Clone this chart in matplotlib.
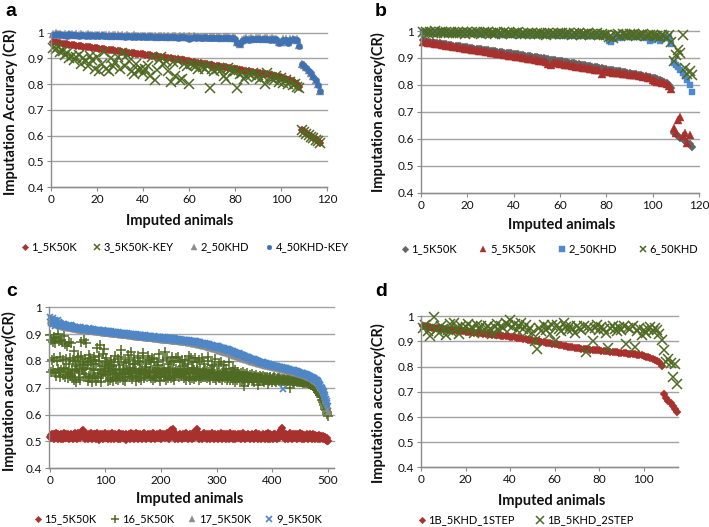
import matplotlib.pyplot as plt
import numpy as np

plt.rcParams['font.family'] = ['Lato', 'DejaVu Sans']

# values are CR x 1000, one per imputed animal (animal index = position + 1)

# series 1_5K50K (panel a red, panel b grey)
s_1_5k50k = [965, 963, 961, 960, 958, 957, 955, 954, 953, 951,
             950, 949, 947, 946, 945, 944, 943, 941, 940, 939,
             938, 937, 935, 934, 933, 932, 931, 929, 928, 927,
             926, 925, 923, 922, 921, 920, 919, 918, 917, 916,
             914, 913, 912, 911, 909, 908, 907, 905, 904, 903,
             901, 900, 899, 897, 896, 894, 893, 892, 890, 889,
             887, 886, 884, 883, 881, 880, 878, 877, 875, 874,
             872, 871, 869, 868, 866, 865, 863, 862, 860, 859,
             857, 856, 854, 853, 851, 850, 848, 847, 845, 844,
             842, 841, 839, 838, 836, 834, 832, 830, 828, 826,
             824, 821, 818, 815, 811, 806, 800, 790,
             622, 616, 610, 604, 598, 592, 586, 579, 571]

# series 2_50KHD (panel a grey, panel b blue)
s_2_50khd = [995, 997, 994, 996, 993, 995, 992, 996, 994, 993,
             995, 992, 994, 993, 991, 994, 992, 993, 990, 993,
             991, 993, 990, 992, 991, 989, 992, 990, 991, 989,
             991, 988, 990, 989, 987, 990, 988, 989, 986, 989,
             988, 986, 989, 987, 988, 985, 988, 986, 987, 985,
             987, 985, 986, 988, 984, 986, 985, 987, 983, 986,
             984, 986, 983, 985, 984, 982, 985, 983, 984, 982,
             984, 982, 983, 981, 983, 982, 984, 981, 983, 980,
             962, 958, 972, 976, 978, 975, 979, 977, 980, 978,
             979, 977, 980, 978, 976, 979, 975, 977, 962, 965,
             974, 976, 963, 975, 977, 973, 975, 952,
             880, 873, 866, 856, 845, 832, 818, 800, 775]

a_3_5k50k_key = [940, 935, 945, 925, 930, 915, 920, 900, 910, 895,
                 905, 915, 880, 900, 890, 870, 910, 895, 860, 905,
                 850, 880, 925, 860, 850, 900, 870, 885, 905, 860,
                 920, 870, 915, 890, 850, 840, 880, 855, 860, 845,
                 860, 870, 830, 905, 815, 855, 895, 905, 880, 890,
                 850, 810, 885, 830, 890, 815, 820, 880, 870, 800,
                 880, 875, 870, 860, 870, 865, 860, 870, 785, 858,
                 850, 860, 862, 855, 830, 820, 862, 855, 850, 852,
                 785, 840, 845, 820, 830, 840, 835, 842, 828, 836,
                 820, 830, 800, 845, 826, 820, 815, 830, 810, 823,
                 805, 815, 800, 810, 795, 800, 790, 785,
                 620, 615, 608, 602, 596, 590, 584, 578, 570]

a_4_50khd_key = [993, 995, 991, 994, 990, 993, 989, 994, 991, 990,
                 992, 989, 991, 990, 988, 991, 989, 990, 987, 990,
                 988, 990, 987, 989, 988, 986, 989, 987, 988, 986,
                 988, 985, 987, 986, 984, 987, 985, 986, 983, 986,
                 985, 983, 986, 984, 985, 982, 985, 983, 984, 982,
                 984, 982, 983, 985, 981, 983, 982, 984, 980, 975,
                 981, 983, 980, 982, 981, 979, 982, 980, 981, 979,
                 981, 979, 980, 978, 980, 979, 981, 978, 980, 977,
                 959, 955, 969, 973, 975, 972, 976, 974, 977, 975,
                 976, 974, 977, 975, 973, 976, 972, 974, 959, 962,
                 971, 973, 960, 972, 974, 970, 972, 950,
                 878, 870, 863, 853, 842, 829, 815, 797, 773]

b_5_5k50k = [960, 958, 957, 955, 954, 952, 951, 950, 948, 947,
             946, 944, 943, 942, 940, 939, 938, 936, 935, 933,
             932, 931, 929, 928, 927, 925, 924, 922, 921, 920,
             918, 917, 916, 914, 913, 911, 910, 909, 907, 906,
             904, 903, 902, 900, 899, 897, 896, 895, 893, 892,
             890, 889, 888, 886, 876, 874, 883, 881, 880, 878,
             877, 875, 874, 872, 871, 869, 868, 866, 865, 864,
             862, 861, 859, 858, 857, 855, 854, 841, 852, 850,
             849, 848, 846, 845, 844, 843, 841, 840, 839, 838,
             837, 836, 835, 833, 832, 831, 829, 827, 824, 820,
             816, 812, 810, 808, 806, 802, 795, 785,
             640, 620, 668, 680, 612, 622, 585, 615]

b_6_50khd = [995, 998, 992, 996, 994, 999, 991, 995, 997, 993,
             996, 992, 998, 994, 991, 996, 993, 997, 990, 995,
             993, 997, 991, 995, 994, 990, 996, 992, 995, 991,
             994, 990, 996, 992, 989, 995, 991, 994, 990, 993,
             991, 995, 989, 993, 990, 994, 988, 992, 990, 993,
             989, 993, 990, 987, 992, 989, 993, 988, 991, 989,
             992, 988, 990, 993, 987, 991, 989, 992, 987, 990,
             988, 991, 986, 990, 988, 991, 986, 989, 987, 984,
             978, 982, 975, 985, 988, 983, 989, 986, 984, 988,
             985, 989, 983, 987, 985, 988, 982, 986, 984, 987,
             980, 983, 978, 985, 980, 975, 985, 960, 890, 912,
             930, 920, 985, 862, 840, 850, 835]

c_15_5k50k = [518, 524, 512, 529, 515, 521, 509, 526, 519, 513, 531, 516, 522, 510, 527, 518, 514, 525, 520, 511,
              528, 517, 523, 508, 521, 530, 514, 519, 526, 512, 522, 516, 529, 511, 520, 524, 513, 527, 518, 515,
              523, 510, 528, 519, 533, 514, 521, 526, 509, 517, 530, 522, 515, 527, 512, 520, 531, 538, 544, 526,
              532, 518, 511, 525, 520, 514, 529, 508, 522, 517, 527, 512, 520, 531, 515, 509, 524, 519, 528, 513,
              521, 526, 510, 518, 530, 515, 523, 507, 519, 527, 513, 522, 516, 529, 511, 520, 525, 514, 532, 517,
              512, 524, 519, 508, 528, 516, 521, 513, 526, 518, 510, 531, 515, 523, 509, 520, 527, 514, 522, 516,
              525, 511, 519, 533, 515, 522, 508, 527, 517, 521, 513, 529, 518, 512, 524, 520, 507, 526, 516, 523,
              514, 528, 519, 510, 525, 517, 531, 512, 521, 526, 509, 518, 524, 515, 530, 513, 520, 527, 511, 522,
              517, 529, 512, 523, 519, 508, 526, 515, 521, 532, 514, 518, 525, 510, 522, 527, 516, 520, 513, 528,
              519, 511, 524, 517, 530, 513, 521, 526, 509, 518, 523, 515, 528, 512, 520, 525, 516, 531, 514, 522,
              510, 527, 518, 523, 515, 529, 512, 520, 524, 517, 531, 514, 521, 526, 509, 533, 519, 536, 541, 528,
              539, 546, 530, 517, 524, 511, 522, 527, 515, 520, 508, 525, 518, 513, 529, 516, 521, 510, 526, 519,
              514, 523, 528, 512, 520, 531, 516, 509, 524, 518, 522, 513, 527, 519, 511, 525, 517, 530, 514, 521,
              527, 533, 540, 545, 529, 516, 522, 510, 526, 518, 513, 524, 520, 508, 528, 515, 521, 531, 512, 519,
              524, 511, 529, 517, 521, 514, 527, 509, 520, 525, 516, 530, 512, 519, 523, 510, 526, 518, 513, 522,
              516, 528, 510, 521, 525, 513, 519, 531, 508, 523, 517, 527, 512, 520, 515, 529, 511, 522, 526, 514,
              520, 509, 525, 518, 530, 513, 521, 516, 527, 511, 519, 524, 508, 526, 515, 522, 512, 528, 517, 521,
              513, 526, 519, 510, 524, 517, 531, 514, 520, 527, 509, 522, 516, 525, 512, 518, 529, 515, 521, 508,
              525, 517, 512, 528, 520, 514, 523, 510, 526, 518, 531, 513, 519, 524, 508, 521, 527, 515, 520, 511,
              522, 516, 529, 512, 519, 525, 509, 521, 527, 514, 518, 530, 511, 523, 517, 508, 526, 520, 513, 524,
              518, 510, 527, 521, 514, 529, 516, 522, 511, 525, 519, 531, 513, 520, 535, 542, 549, 540, 527, 515,
              520, 526, 511, 518, 529, 514, 522, 508, 525, 517, 521, 530, 512, 519, 524, 510, 527, 516, 522, 513,
              528, 515, 521, 509, 526, 518, 512, 524, 519, 530, 514, 520, 527, 511, 523, 517, 508, 525, 516, 521,
              514, 527, 519, 510, 524, 521, 515, 529, 512, 518, 523, 509, 526, 517, 520, 513, 525, 511, 519, 516,
              522, 510, 518, 525, 513, 519, 508, 521, 515, 512, 520, 509, 517, 513, 510, 515, 507, 512, 503, 500]

c_16_5k50k = [895, 760, 880, 805, 872, 765, 890, 810, 755, 868, 745, 885, 800, 770, 900, 760, 875, 815, 740, 880,
              765, 870, 805, 748, 893, 775, 862, 740, 808, 770, 855, 760, 735, 872, 790, 752, 812, 745, 868, 765,
              740, 805, 838, 728, 762, 800, 782, 722, 770, 812, 815, 738, 760, 790, 730, 820, 870, 765, 795, 785,
              880, 750, 808, 772, 866, 740, 785, 795, 725, 822, 745, 812, 735, 770, 800, 720, 790, 748, 815, 765,
              742, 805, 725, 790, 850, 735, 755, 800, 818, 768, 860, 745, 722, 780, 752, 825, 845, 762, 795, 770,
              748, 810, 790, 725, 758, 785, 775, 730, 762, 805, 738, 780, 752, 725, 770, 798, 820, 755, 732, 768,
              745, 808, 728, 785, 750, 738, 765, 815, 842, 752, 730, 770, 792, 760, 725, 755, 798, 740, 768, 822,
              750, 765, 805, 775, 742, 758, 835, 732, 788, 745, 770, 812, 755, 790, 725, 762, 740, 818, 800, 735,
              758, 795, 770, 730, 752, 766, 812, 830, 755, 735, 768, 748, 790, 778, 742, 760, 820, 755, 805, 745,
              762, 738, 798, 810, 728, 765, 745, 808, 735, 775, 742, 760, 795, 755, 785, 740, 825, 765, 725, 752,
              745, 770, 802, 758, 742, 765, 752, 834, 730, 760, 810, 738, 772, 755, 790, 762, 745, 795, 738, 815,
              740, 765, 800, 728, 758, 745, 770, 812, 752, 762, 815, 740, 755, 795, 768, 745, 758, 805, 780, 750,
              735, 760, 805, 770, 728, 752, 765, 790, 755, 820, 742, 730, 760, 812, 775, 738, 755, 798, 768, 732,
              758, 810, 742, 765, 795, 750, 762, 728, 805, 745, 770, 738, 812, 752, 740, 760, 790, 748, 765, 742,
              755, 735, 762, 800, 815, 740, 758, 730, 752, 768, 785, 755, 735, 760, 748, 780, 738, 808, 728, 745,
              760, 742, 755, 735, 790, 750, 738, 797, 745, 728, 762, 740, 752, 785, 735, 748, 770, 730, 755, 742,
              738, 752, 795, 728, 745, 760, 735, 748, 775, 730, 742, 755, 722, 765, 740, 750, 728, 745, 760, 735,
              748, 730, 742, 755, 725, 738, 760, 732, 745, 705, 750, 728, 740, 735, 755, 722, 745, 738, 730, 748,
              735, 742, 725, 752, 738, 730, 745, 720, 740, 735, 748, 728, 738, 742, 710, 735, 730, 745, 725, 740,
              732, 738, 725, 745, 730, 720, 740, 735, 728, 742, 732, 715, 738, 730, 725, 740, 735, 728, 732, 722,
              735, 728, 740, 730, 725, 736, 720, 732, 728, 738, 730, 724, 735, 728, 732, 720, 734, 726, 730, 728,
              732, 725, 730, 728, 722, 734, 726, 730, 724, 728, 732, 700, 726, 730, 724, 728, 722, 726, 729, 723,
              727, 724, 728, 722, 726, 724, 727, 721, 725, 723, 726, 720, 724, 722, 725, 719, 723, 721, 724, 718,
              722, 719, 721, 717, 720, 716, 718, 714, 716, 712, 714, 709, 711, 706, 708, 702, 703, 697, 698, 692,
              690, 684, 686, 679, 680, 672, 673, 665, 664, 656, 654, 646, 643, 635, 630, 622, 617, 609, 603, 596]

c_17_5k50k = [950, 947, 946, 944, 943, 942, 940, 939, 938, 937, 936, 935, 934, 934, 933, 932, 931, 931, 930, 930,
              929, 929, 928, 928, 927, 927, 926, 926, 925, 925, 925, 924, 924, 923, 923, 923, 922, 922, 921, 921,
              921, 920, 920, 920, 919, 919, 919, 918, 918, 918, 917, 917, 917, 917, 916, 916, 916, 915, 915, 915,
              915, 914, 914, 914, 913, 913, 913, 913, 912, 912, 912, 912, 911, 911, 911, 911, 910, 910, 910, 910,
              910, 909, 909, 909, 909, 908, 908, 908, 908, 907, 907, 907, 907, 906, 906, 906, 906, 905, 905, 905,
              905, 904, 904, 904, 904, 903, 903, 903, 903, 902, 902, 902, 902, 901, 901, 901, 901, 900, 900, 900,
              900, 899, 899, 899, 899, 898, 898, 898, 898, 897, 897, 897, 897, 896, 896, 896, 896, 895, 895, 895,
              895, 894, 894, 894, 894, 893, 893, 893, 893, 892, 892, 892, 892, 891, 891, 891, 891, 891, 890, 890,
              890, 890, 889, 889, 889, 889, 888, 888, 888, 888, 887, 887, 887, 887, 886, 886, 886, 886, 886, 885,
              885, 885, 885, 884, 884, 884, 884, 883, 883, 883, 883, 882, 882, 882, 882, 882, 881, 881, 881, 881,
              880, 880, 880, 880, 879, 879, 879, 879, 879, 878, 878, 878, 878, 877, 877, 877, 877, 877, 876, 876,
              876, 876, 875, 875, 875, 875, 874, 874, 874, 874, 873, 873, 873, 873, 872, 872, 872, 872, 871, 871,
              871, 870, 870, 870, 869, 869, 869, 868, 868, 868, 867, 867, 867, 866, 866, 866, 865, 865, 865, 864,
              864, 863, 863, 862, 862, 861, 861, 860, 860, 859, 859, 858, 858, 857, 857, 856, 856, 855, 855, 854,
              854, 853, 853, 852, 851, 851, 850, 850, 849, 848, 848, 847, 847, 846, 845, 845, 844, 843, 843, 842,
              841, 841, 840, 839, 839, 838, 837, 837, 836, 835, 835, 834, 833, 833, 832, 831, 831, 830, 829, 829,
              828, 827, 826, 826, 825, 824, 823, 823, 822, 821, 820, 820, 819, 818, 817, 817, 816, 815, 814, 814,
              813, 812, 811, 811, 810, 809, 808, 808, 807, 806, 806, 805, 804, 804, 803, 802, 802, 801, 800, 800,
              799, 798, 798, 797, 796, 796, 795, 795, 794, 793, 793, 792, 792, 791, 790, 790, 789, 789, 788, 787,
              787, 786, 786, 785, 785, 784, 784, 783, 783, 782, 782, 781, 781, 780, 780, 779, 779, 778, 778, 777,
              777, 776, 776, 775, 775, 774, 774, 773, 773, 772, 772, 771, 771, 770, 770, 769, 769, 768, 768, 767,
              767, 766, 766, 765, 765, 764, 764, 763, 763, 762, 762, 761, 761, 760, 760, 759, 759, 758, 758, 757,
              757, 756, 756, 755, 754, 754, 753, 753, 752, 751, 751, 750, 749, 749, 748, 747, 747, 746, 745, 744,
              744, 743, 742, 741, 740, 739, 738, 737, 736, 735, 734, 733, 731, 730, 729, 727, 726, 724, 722, 720,
              718, 715, 713, 710, 707, 704, 700, 697, 693, 689, 684, 679, 673, 667, 660, 652, 644, 635, 622, 608]

c_9_5k50k = [965, 942, 958, 950, 936, 961, 947, 940, 953, 931, 948, 944, 937, 951, 934, 945, 939, 930, 942, 936,
             938, 931, 936, 929, 934, 938, 928, 933, 930, 935, 927, 932, 929, 934, 926, 931, 928, 933, 925, 929,
             927, 923, 928, 921, 925, 927, 920, 924, 922, 926, 919, 923, 921, 925, 918, 922, 924, 919, 921, 917,
             921, 918, 922, 916, 920, 918, 915, 919, 917, 921, 914, 918, 916, 920, 913, 917, 915, 919, 912, 916,
             916, 913, 917, 911, 915, 912, 916, 910, 914, 911, 915, 909, 913, 910, 914, 908, 912, 909, 913, 907,
             911, 908, 912, 906, 910, 907, 911, 905, 909, 906, 910, 904, 908, 905, 909, 903, 907, 904, 908, 902,
             906, 903, 907, 901, 905, 902, 906, 900, 904, 901, 905, 899, 903, 900, 904, 898, 902, 899, 903, 897,
             901, 898, 902, 896, 900, 897, 901, 895, 899, 896, 900, 894, 898, 895, 899, 893, 897, 894, 898, 892,
             896, 893, 897, 891, 895, 892, 896, 890, 894, 891, 895, 889, 893, 890, 894, 888, 892, 889, 893, 887,
             892, 889, 893, 887, 891, 888, 892, 886, 890, 887, 891, 885, 889, 886, 890, 884, 888, 885, 889, 883,
             887, 885, 889, 882, 886, 884, 888, 881, 885, 883, 887, 880, 884, 882, 886, 879, 883, 885, 881, 884,
             882, 880, 884, 878, 882, 879, 883, 877, 881, 878, 882, 876, 880, 878, 881, 875, 879, 877, 880, 874,
             878, 876, 879, 873, 877, 875, 878, 872, 876, 874, 877, 871, 875, 873, 876, 870, 874, 872, 875, 869,
             873, 871, 874, 868, 872, 869, 871, 866, 869, 867, 870, 864, 867, 865, 868, 862, 865, 863, 866, 860,
             864, 862, 865, 859, 862, 860, 862, 856, 859, 857, 860, 854, 857, 855, 857, 852, 855, 853, 855, 850,
             856, 853, 855, 850, 853, 850, 852, 847, 850, 847, 849, 844, 847, 845, 846, 841, 844, 842, 843, 839,
             843, 841, 842, 837, 840, 837, 838, 833, 836, 834, 834, 830, 832, 830, 830, 826, 828, 826, 826, 822,
             828, 825, 826, 822, 824, 822, 822, 818, 820, 818, 818, 814, 816, 814, 815, 811, 813, 811, 812, 808,
             810, 808, 809, 805, 807, 805, 806, 802, 804, 802, 803, 799, 801, 799, 800, 796, 798, 797, 797, 794,
             796, 794, 795, 791, 793, 792, 792, 789, 791, 789, 790, 786, 788, 787, 787, 784, 786, 785, 785, 782,
             784, 783, 783, 780, 782, 781, 781, 778, 780, 778, 779, 776, 778, 776, 777, 774, 776, 774, 775, 695,
             774, 772, 773, 770, 772, 770, 771, 768, 770, 768, 769, 766, 768, 766, 767, 764, 766, 764, 765, 762,
             764, 762, 763, 759, 762, 760, 760, 757, 759, 757, 757, 754, 756, 754, 754, 751, 753, 751, 751, 748,
             750, 748, 748, 745, 747, 745, 744, 741, 743, 741, 740, 737, 738, 736, 735, 732, 733, 730, 729, 726,
             728, 724, 722, 717, 716, 711, 709, 704, 701, 696, 693, 687, 684, 677, 673, 665, 659, 650, 642, 632]

d_1b_1step = [962, 960, 958, 957, 955, 954, 952, 951, 950, 949,
              948, 947, 946, 945, 944, 943, 942, 941, 940, 939,
              938, 937, 936, 935, 934, 933, 932, 931, 930, 929,
              928, 927, 926, 925, 924, 923, 922, 921, 920, 919,
              917, 916, 915, 913, 912, 910, 909, 907, 906, 904,
              903, 901, 900, 898, 897, 895, 894, 892, 891, 889,
              888, 886, 885, 883, 882, 880, 879, 877, 876, 874,
              873, 872, 871, 870, 869, 868, 867, 866, 866, 865,
              864, 863, 862, 861, 860, 859, 858, 857, 856, 855,
              854, 853, 852, 851, 850, 849, 848, 846, 845, 843,
              840, 837, 834, 831, 828, 824, 818, 803,
              690, 676, 664, 654, 643, 632, 621]

d_1b_2step = [955, 965, 940, 920, 958, 998, 948, 935, 962, 950,
              925, 945, 968, 938, 975, 955, 930, 962, 948, 958,
              968, 945, 958, 935, 965, 950, 960, 940, 955, 962,
              948, 930, 958, 968, 945, 960, 955, 975, 965, 985,
              958, 970, 945, 962, 975, 950, 965, 940, 955, 935,
              900, 870, 955, 940, 965, 945, 958, 930, 965, 900,
              965, 950, 940, 975, 958, 945, 962, 950, 935, 960,
              955, 945, 962, 860, 958, 950, 900, 955, 965, 945,
              958, 948, 935, 875, 955, 962, 950, 940, 958, 945,
              960, 890, 955, 948, 962, 880, 940, 955, 925, 945,
              935, 950, 958, 940, 955, 945, 930, 905, 865, 820,
              830, 815, 760, 810, 730]

y_ticks = [0.4, 0.5, 0.6, 0.7, 0.8, 0.9, 1.0]
y_ticklabels = ['0.4', '0.5', '0.6', '0.7', '0.8', '0.9', '1']

W, H = 709, 527
fig = plt.figure(figsize=(W / 100, H / 100), dpi=100)


def px_axes(l, r, t, b):
    return fig.add_axes([l / W, 1 - b / H, (r - l) / W, (b - t) / H])


def style(ax, xlim, xticks):
    ax.set_xlim(*xlim)
    ax.set_ylim(0.4, 1.0)
    ax.set_xticks(xticks)
    ax.set_yticks(y_ticks)
    ax.set_yticklabels(y_ticklabels)
    ax.yaxis.grid(True, color='#a3a3a3', lw=1.0)
    for g in ax.get_ygridlines():
        g.set_clip_on(False)
    ax.set_axisbelow(True)
    for s in ['top', 'right']:
        ax.spines[s].set_visible(False)
    for s in ['left', 'bottom']:
        ax.spines[s].set_color('#8c8c8c')
        ax.spines[s].set_linewidth(1.0)
    ax.tick_params(direction='out', length=3, width=0.8, color='#8c8c8c',
                   labelsize=8.5, pad=2, labelcolor='#111111')


def pts(ax, vals, **kw):
    v = np.array(vals) / 1000
    x = np.arange(1, len(v) + 1)
    ax.plot(x, v, linestyle='none', clip_on=False, **kw)


def legend(ax, x, y, sp):
    ax.legend(loc='center left', bbox_to_anchor=(x / W, 1 - y / H), bbox_transform=fig.transFigure,
              ncol=4, frameon=False, fontsize=8, handlelength=0.7, handletextpad=0.25,
              columnspacing=sp, borderpad=0, borderaxespad=0, numpoints=1, markerscale=0.75)


red = '#a8312e'
green = '#4f6a22'

# ---- a ----
ax = px_axes(51, 327, 32.7, 187)
style(ax, (0, 120), range(0, 121, 20))
pts(ax, s_1_5k50k, marker='D', ms=4.3, color=red, mew=0.3, label='1_5K50K')
pts(ax, a_3_5k50k_key, marker='x', ms=6.5, color=green, mew=1.1, label='3_5K50K-KEY')
pts(ax, s_2_50khd, marker='^', ms=6.3, color='#8c8c8c', mew=0.3, label='2_50KHD')
pts(ax, a_4_50khd_key, marker='o', ms=4.5, color='#3f72b5', mew=0.3, label='4_50KHD-KEY')
legend(ax, 21, 247, 1.45)

# ---- b ----
bx = px_axes(421, 699, 31, 192.7)
style(bx, (0, 120), range(0, 121, 20))
pts(bx, s_1_5k50k, marker='D', ms=4.5, color='#646464', mew=0.3, label='1_5K50K')
pts(bx, b_5_5k50k, marker='^', ms=6.0, color=red, mew=0.3, label='5_5K50K')
pts(bx, s_2_50khd, marker='s', ms=5.0, color='#4f8ad0', mew=0.3, label='2_50KHD')
pts(bx, b_6_50khd, marker='x', ms=6.5, color=green, mew=1.1, label='6_50KHD')
legend(bx, 401, 249, 2.0)

# ---- c ----
cx = px_axes(48.7, 334.3, 307.3, 468.3)
style(cx, (-2, 512), range(0, 501, 100))
pts(cx, c_15_5k50k, marker='D', ms=4.4, color=red, mew=0.3, label='15_5K50K')
pts(cx, c_16_5k50k, marker='+', ms=7, color=green, mew=1.1, label='16_5K50K')
pts(cx, c_17_5k50k, marker='^', ms=5.0, color='#8c8c8c', mew=0.3, label='17_5K50K')
pts(cx, c_9_5k50k, marker='x', ms=5.0, color='#4f86c6', mew=1.2, label='9_5K50K')
legend(cx, 34, 519, 1.3)

# ---- d ----
dx = px_axes(421, 678.3, 316.3, 467.3)
style(dx, (0, 115.5), range(0, 101, 20))
pts(dx, d_1b_1step, marker='D', ms=4.5, color=red, mew=0.3, label='1B_5KHD_1STEP')
pts(dx, d_1b_2step, marker='x', ms=7, color=green, mew=1.1, label='1B_5KHD_2STEP')
legend(dx, 418, 520, 1.9)

# axis titles
bold = dict(fontsize=10.5, fontweight='bold', color='#111111', ha='center', va='center')
fig.text(10 / W, 1 - 112 / H, 'Imputation Accuracy (CR)', rotation=90, **bold)
fig.text(180 / W, 1 - 221 / H, 'Imputed animals', **bold)
fig.text(378 / W, 1 - 112 / H, 'Imputation accuracy(CR)', rotation=90, **bold)
fig.text(562 / W, 1 - 225 / H, 'Imputed animals', **bold)
fig.text(9 / W, 1 - 391 / H, 'Imputation accuracy(CR)', rotation=90, **bold)
fig.text(190 / W, 1 - 499 / H, 'Imputed animals', **bold)
fig.text(378 / W, 1 - 403 / H, 'Imputation accuracy(CR)', rotation=90, **bold)
fig.text(552 / W, 1 - 501 / H, 'Imputed animals', **bold)

# panel letters
let = dict(fontsize=14, fontweight='bold', family='Liberation Sans', ha='center', va='center')
fig.text(11 / W, 1 - 12 / H, 'a', **let)
fig.text(381 / W, 1 - 11 / H, 'b', **let)
fig.text(12 / W, 1 - 292 / H, 'c', **let)
fig.text(381 / W, 1 - 291 / H, 'd', **let)

fig.savefig('out.png', dpi=100)
